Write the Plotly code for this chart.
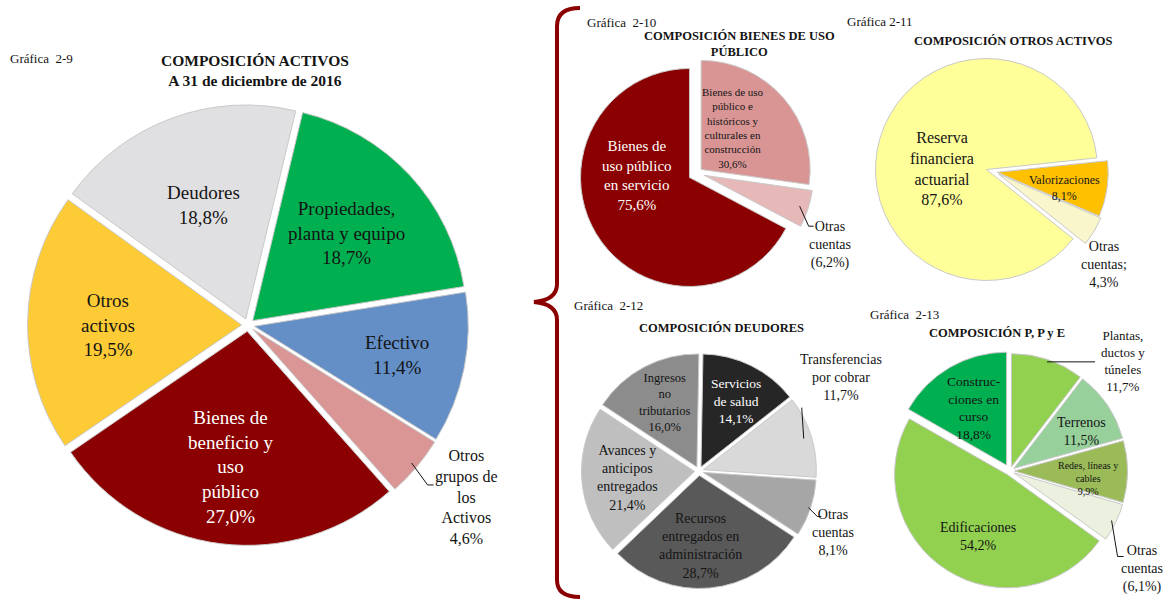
import math
import plotly.graph_objects as go

W, H = 1169, 601
FONT = "Liberation Serif"
INK = "#141414"

# Gráfica 2-9  Composición activos
act_labels = ["Propiedades,<br>planta y equipo", "Efectivo", "Otros<br>grupos de<br>los<br>Activos",
              "Bienes de<br>beneficio y<br>uso<br>público", "Otros<br>activos", "Deudores"]
act_values = [18.7, 11.4, 4.6, 27.0, 19.5, 18.8]
act_colors = ["#00b050", "#638ec6", "#d99694", "#8b0000", "#fdcb35", "#e0dfe1"]

# Gráfica 2-10  Bienes de uso público
bup_labels = ["Bienes de uso<br>público e<br>históricos y<br>culturales en<br>construcción",
              "Otras<br>cuentas", "Bienes de<br>uso público<br>en servicio"]
bup_values = [30.6, 6.2, 75.6]
bup_fmt = ["{}", "({})", "{}"]
bup_colors = ["#d99594", "#e6b9b8", "#8b0000"]

# Gráfica 2-11  Otros activos
oac_labels = ["Valorizaciones", "Otras<br>cuentas;", "Reserva<br>financiera<br>actuarial"]
oac_values = [8.1, 4.3, 87.6]
oac_colors = ["#ffc000", "#faf6cc", "#ffff99"]

# Gráfica 2-12  Deudores
deu_labels = ["Servicios<br>de salud", "Transferencias<br>por cobrar", "Otras<br>cuentas",
              "Recursos<br>entregados en<br>administración", "Avances y<br>anticipos<br>entregados",
              "Ingresos<br>no<br>tributarios"]
deu_values = [14.1, 11.7, 8.1, 28.7, 21.4, 16.0]
deu_colors = ["#262626", "#d9d9d9", "#a6a6a6", "#595959", "#bfbfbf", "#8c8c8c"]

# Gráfica 2-13  Propiedades, planta y equipo
ppe_labels = ["Plantas,<br>ductos y<br>túneles", "Terrenos", "Redes, líneas y<br>cables", "Otras<br>cuentas",
              "Edificaciones", "Construc-<br>ciones en<br>curso"]
ppe_values = [11.7, 11.5, 9.9, 6.1, 54.2, 18.8]
ppe_fmt = ["{}", "{}", "{}", "({})", "{}", "{}"]
ppe_colors = ["#92d050", "#98d09c", "#9bbb59", "#ebf1de", "#92d050", "#00b050"]

fig = go.Figure()


def pct(v):
    return f"{v:.1f}".replace(".", ",") + "%"


def pie(labels, values, colors, pulls, rotation, cx, cy, r):
    R = r * (1 + max(pulls))
    fig.add_trace(go.Pie(
        labels=[l.replace("<br>", " ") for l in labels], values=values, sort=False,
        direction="clockwise", rotation=rotation, pull=pulls, textinfo="none",
        hoverinfo="label+value",
        marker=dict(colors=colors, line=dict(color="#c9c9c9", width=1)),
        domain=dict(x=[(cx - R) / W, (cx + R) / W], y=[1 - (cy + R) / H, 1 - (cy - R) / H]),
        showlegend=False))
    mids, a = [], rotation
    for v in values:
        span = 360.0 * v / sum(values)
        mids.append(math.radians(a + span / 2))
        a += span
    return dict(cx=cx, cy=cy, r=r, pulls=pulls, mids=mids)


def at(g, i, frac):
    t = g["mids"][i]
    d = (g["pulls"][i] + frac) * g["r"]
    return g["cx"] + d * math.sin(t), g["cy"] - d * math.cos(t)


def note(text, x, y, size, color=INK, xanchor="center"):
    fig.add_annotation(x=x / W, y=1 - y / H, xref="paper", yref="paper", text=text,
                       showarrow=False, xanchor=xanchor, yanchor="middle", align="center",
                       font=dict(family=FONT, size=size, color=color))


def label_in(g, i, text, frac, size, color=INK, dx=0, dy=0):
    x, y = at(g, i, frac)
    note(text, x + dx, y + dy, size, color)


def label_out(g, i, text, frac, tx, ty, size, path=None):
    x, y = at(g, i, frac)
    note(text, x + tx, y + ty, size)
    if path:
        pts = [(x, y)] + [(x + a, y + b) for a, b in path]
        d = "M" + "L".join(f"{px / W:.5f},{1 - py / H:.5f}" for px, py in pts)
        fig.add_shape(type="path", path=d, xref="paper", yref="paper",
                      line=dict(color=INK, width=1))


# ---- Gráfica 2-9
g = pie(act_labels, act_values, act_colors, [0.03] * 6, 13.5, 248, 325, 214)
t = [f"{l}<br>{pct(v)}" for l, v in zip(act_labels, act_values)]
label_in(g, 0, t[0], 0.60, 19)
label_in(g, 1, t[1], 0.68, 19)
label_out(g, 2, t[2], 0.97, 55, 34, 16, [(16, 22), (22, 22)])
label_in(g, 3, t[3], 0.64, 19, "white")
label_in(g, 4, t[4], 0.61, 19, dx=-3, dy=2)
label_in(g, 5, t[5], 0.57, 19)

# ---- Gráfica 2-10
g = pie(bup_labels, bup_values, bup_colors, [0.05, 0.07, 0.08], 0, 697, 173, 109)
t = [f"{l}<br>{f.format(pct(v))}" for l, v, f in zip(bup_labels, bup_values, bup_fmt)]
label_in(g, 0, t[0], 0.45, 11, dx=-5, dy=-9)
label_out(g, 1, t[1], 0.92, 30, 39, 14, [(9, 20), (14, 20)])
label_in(g, 2, t[2], 0.56, 15, "white", dy=-33)

# ---- Gráfica 2-11
g = pie(oac_labels, oac_values, oac_colors, [0.02, 0.04, 0.08], 84, 995, 172, 111)
t = [f"{l}<br>{pct(v)}" for l, v in zip(oac_labels, oac_values)]
label_in(g, 0, t[0], 0.63, 12, dx=-2, dy=5)
label_out(g, 1, t[1], 1.0, 10, 33, 14)
label_in(g, 2, t[2], 0.42, 16, dy=12)

# ---- Gráfica 2-12
g = pie(deu_labels, deu_values, deu_colors, [0.04] * 6, 1, 699, 471, 113)
t = [f"{l}<br>{pct(v)}" for l, v in zip(deu_labels, deu_values)]
label_in(g, 0, t[0], 0.62, 13.5, "white", dx=4, dy=-3)
label_out(g, 1, t[1], 0.93, 37, -61, 14, [(-2, -31)])
label_out(g, 2, t[2], 0.98, 25, 25, 14, [(9, 9), (13, 9)])
label_in(g, 3, t[3], 0.58, 14, dx=-5, dy=5)
label_in(g, 4, t[4], 0.56, 14, dx=-4, dy=1)
label_in(g, 5, t[5], 0.60, 12.5, dy=-5)

# ---- Gráfica 2-13
g = pie(ppe_labels, ppe_values, ppe_colors, [0.04, 0.04, 0.04, 0.04, 0.04, 0.06], 0, 1010, 471, 113)
t = [f"{l}<br>{f.format(pct(v))}" for l, v, f in zip(ppe_labels, ppe_values, ppe_fmt)]
label_out(g, 0, t[0], 0.98, 76, -1, 13, [(48, 0)])
label_in(g, 1, t[1], 0.65, 14, dx=7, dy=4)
label_in(g, 2, t[2], 0.62, 10, dx=3, dy=7)
label_out(g, 3, t[3], 0.96, 30, 48, 14, [(6, 36), (12, 36)])
label_in(g, 4, t[4], 0.56, 14, dx=5, dy=8)
label_in(g, 5, t[5], 0.58, 13.5)

# ---- titles
note("Gráfica  2-9", 8, 58, 13, xanchor="left")
note("<b>COMPOSICIÓN ACTIVOS<br>A 31 de diciembre de 2016</b>", 255, 70, 15.5)
note("Gráfica  2-10", 585, 23, 13, xanchor="left")
note("<b>COMPOSICIÓN BIENES DE USO<br>PÚBLICO</b>", 740, 44, 12.5)
note("Gráfica 2-11", 845, 22, 13, xanchor="left")
note("<b>COMPOSICIÓN OTROS ACTIVOS</b>", 1013, 41, 12.5)
note("Gráfica  2-12", 572, 305, 13, xanchor="left")
note("<b>COMPOSICIÓN DEUDORES</b>", 721, 328, 12.5)
note("Gráfica  2-13", 868, 314, 13, xanchor="left")
note("<b>COMPOSICIÓN P, P y E</b>", 997, 333, 12.5)

# ---- curly brace grouping the detail charts
brace = [("M", 580, 8), ("Q", 557, 8, 557, 26), ("L", 557, 284), ("Q", 557, 300, 534, 302),
         ("Q", 557, 304, 557, 320), ("L", 557, 580), ("Q", 557, 597, 580, 597)]
path = ""
for seg in brace:
    nums = seg[1:]
    pairs = [f"{nums[k] / W:.5f},{1 - nums[k + 1] / H:.5f}" for k in range(0, len(nums), 2)]
    path += seg[0] + " ".join(pairs)
fig.add_shape(type="path", path=path, xref="paper", yref="paper",
              line=dict(color="#8b0000", width=4))

fig.update_layout(width=W, height=H, margin=dict(l=0, r=0, t=0, b=0),
                  paper_bgcolor="white", plot_bgcolor="white",
                  font=dict(family=FONT, color=INK))

fig.write_html("out.html", config={"displayModeBar": False},
               post_script="document.body.style.margin='0';")
